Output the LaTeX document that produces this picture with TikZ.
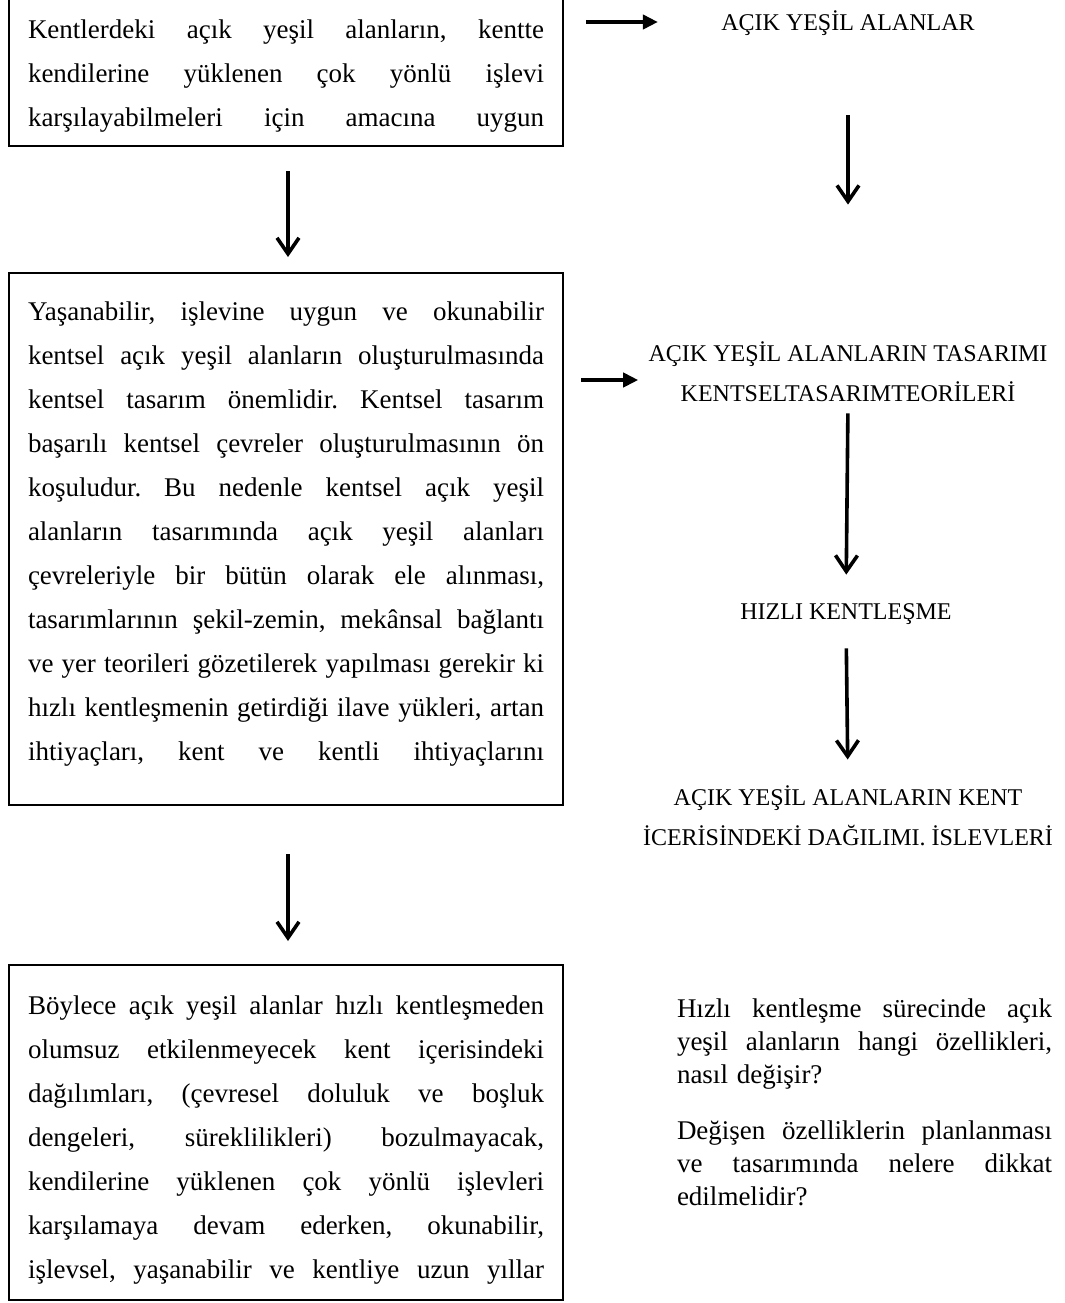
\documentclass[tikz,border=0pt]{standalone}
\usepackage{fontspec}
\setmainfont{Liberation Serif}
\usepackage{tikz}
\usetikzlibrary{arrows.meta, positioning}
\setlength{\parindent}{0pt}
\newcommand{\jline}[2][258pt]{{\frenchspacing\spaceskip=0pt \makebox[#1][s]{#2}}}

\begin{document}
\begin{tikzpicture}[x=0.5pt, y=-0.5pt,
    every node/.style = {font=\fontsize{13.5}{22}\selectfont},
    textbox/.style = {draw, line width=1pt, minimum width=277pt, text width=258pt,
                      inner xsep=9.5pt, inner ysep=0pt, align=left},
    label/.style = {inner sep=0pt, align=center, font=\fontsize{12}{20}\selectfont},
    oneline/.style = {inner sep=0pt, text height=8pt, text depth=0pt, anchor=base,
                      font=\fontsize{12}{20}\selectfont},
    question/.style = {inner sep=0pt, text width=187.5pt, align=left,
                       font=\fontsize{13.5}{16.5}\selectfont},
    varrow/.style = {line width=1.8pt, -{Straight Barb[length=8pt, width=11pt]}},
    harrow/.style = {line width=2.4pt, -{Triangle[length=7.5pt, width=7pt]}}]
    \useasboundingbox (0,0) rectangle (1065,1303);
    \clip (0,0) rectangle (1065,1303);

    % left column
    \node (box1) [textbox, minimum height=75pt, text height=14.2pt] at (286,71) {%
        \jline{Kentlerdeki açık yeşil alanların, kentte}\\
        \jline{kendilerine yüklenen çok yönlü işlevi}\\
        \jline{karşılayabilmeleri için amacına uygun}};
    \node (box2) [textbox, minimum height=266pt, text height=4.2pt] at (286,539) {%
        \jline{Yaşanabilir, işlevine uygun ve okunabilir}\\
        \jline{kentsel açık yeşil alanların oluşturulmasında}\\
        \jline{kentsel tasarım önemlidir. Kentsel tasarım}\\
        \jline{başarılı kentsel çevreler oluşturulmasının ön}\\
        \jline{koşuludur. Bu nedenle kentsel açık yeşil}\\
        \jline{alanların tasarımında açık yeşil alanları}\\
        \jline{çevreleriyle bir bütün olarak ele alınması,}\\
        \jline{tasarımlarının şekil-zemin, mekânsal bağlantı}\\
        \jline{ve yer teorileri gözetilerek yapılması gerekir ki}\\
        \jline{hızlı kentleşmenin getirdiği ilave yükleri, artan}\\
        \jline{ihtiyaçları, kent ve kentli ihtiyaçlarını}};
    \node (box3) [textbox, minimum height=167.5pt, text height=17.2pt] at (286,1132.5) {%
        \jline{Böylece açık yeşil alanlar hızlı kentleşmeden}\\
        \jline{olumsuz etkilenmeyecek kent içerisindeki}\\
        \jline{dağılımları, (çevresel doluluk ve boşluk}\\
        \jline{dengeleri, süreklilikleri) bozulmayacak,}\\
        \jline{kendilerine yüklenen çok yönlü işlevleri}\\
        \jline{karşılamaya devam ederken, okunabilir,}\\
        \jline{işlevsel, yaşanabilir ve kentliye uzun yıllar}};

    % right column
    \node (alanlar) [oneline] at (848,30) {AÇIK YEŞİL ALANLAR};
    \node (tasarim) [label] at (848,372) {AÇIK YEŞİL ALANLARIN TASARIMI\\KENTSELTASARIMTEORİLERİ};
    \node (hizli) [oneline] at (846,619) {HIZLI KENTLEŞME};
    \node (dagilim) [label] at (848,816) {AÇIK YEŞİL ALANLARIN KENT\\İCERİSİNDEKİ DAĞILIMI. İSLEVLERİ};
    \node (soru1) [question] at (864.5,1044) {%
        \jline[187.5pt]{Hızlı kentleşme sürecinde açık}\\
        \jline[187.5pt]{yeşil alanların hangi özellikleri,}\\
        nasıl değişir?};
    \node (soru2) [question] at (864.5,1163) {%
        \jline[187.5pt]{Değişen özelliklerin planlanması}\\
        \jline[187.5pt]{ve tasarımında nelere dikkat}\\
        edilmelidir?};

    \draw [varrow, shorten <=12pt, shorten >=7.5pt] ([xshift=1pt]box1.south) -- ([xshift=1pt]box2.north);
    \draw [varrow, shorten <=24pt, shorten >=11.5pt] ([xshift=1pt]box2.south) -- ([xshift=1pt]box3.north);
    \draw [harrow, shorten <=11pt, shorten >=31.5pt] (box1.east |- alanlar.west) -- (alanlar.west);
    \draw [harrow, shorten <=8.5pt, shorten >=5pt] ([yshift=-4pt]box2.east |- tasarim.west) -- ([yshift=-4pt]tasarim.west);
    \draw [varrow, shorten <=42.5pt, shorten >=68.5pt] (alanlar.south) -- (tasarim.north);
    \draw [varrow, shorten <=5.5pt, shorten >=14pt] (tasarim.south) -- (hizli.north);
    \draw [varrow, shorten <=14.5pt, shorten >=13pt] (hizli.south) -- (dagilim.north);
\end{tikzpicture}
\end{document}
